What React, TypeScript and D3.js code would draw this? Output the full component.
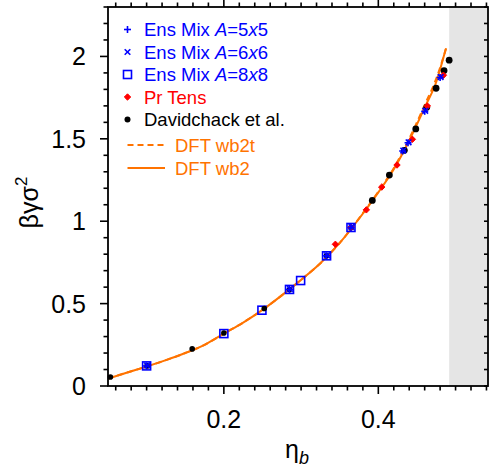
import React from 'react';
import * as d3 from 'd3';

// packing fraction eta_b vs reduced interfacial tension beta*gamma*sigma^2
const davidchack = [
    [0.0531, 0.055], [0.1006, 0.122], [0.159, 0.225], [0.2, 0.322], [0.2523, 0.47],
    [0.2851, 0.586], [0.333, 0.79], [0.3646, 0.962], [0.3922, 1.126], [0.4143, 1.28],
    [0.4337, 1.43], [0.4485, 1.56], [0.4627, 1.691], [0.4748, 1.807], [0.4851, 1.914],
    [0.4917, 1.977],
];
const ensMix8 = [
    [0.1, 0.122], [0.2, 0.318], [0.2493, 0.46], [0.285, 0.586], [0.2994, 0.64],
    [0.333, 0.79], [0.3646, 0.962],
];
const ensMix5 = [
    [0.1, 0.122], [0.285, 0.586], [0.333, 0.79], [0.3646, 0.962], [0.4316, 1.426],
    [0.4385, 1.476], [0.4601, 1.667], [0.48, 1.872],
];
const ensMix6 = [
    [0.1, 0.122], [0.285, 0.586], [0.333, 0.79], [0.3646, 0.962], [0.4316, 1.426],
    [0.4385, 1.476], [0.4601, 1.667], [0.48, 1.872],
];
const prTens = [
    [0.3444, 0.86], [0.3646, 0.962], [0.3845, 1.069], [0.4044, 1.207], [0.4242, 1.341],
    [0.4441, 1.497], [0.4635, 1.699], [0.4843, 1.886],
];
const dftWb2 = [
    [0.05, 0.045], [0.075, 0.082], [0.1, 0.118], [0.125, 0.157], [0.15, 0.2],
    [0.175, 0.25], [0.2, 0.318], [0.225, 0.385], [0.25, 0.462], [0.275, 0.55],
    [0.3, 0.644], [0.325, 0.745], [0.35, 0.868], [0.375, 1.015], [0.4, 1.175],
    [0.42, 1.315], [0.44, 1.49], [0.46, 1.69], [0.475, 1.845], [0.4873, 2.045],
];
const dftWb2t = [
    [0.05, 0.045], [0.075, 0.082], [0.1, 0.118], [0.125, 0.157], [0.15, 0.2],
    [0.175, 0.25], [0.2, 0.318], [0.225, 0.385], [0.25, 0.462], [0.275, 0.55],
    [0.3, 0.644], [0.325, 0.745], [0.35, 0.868], [0.375, 1.017], [0.4, 1.18],
    [0.42, 1.322], [0.44, 1.5], [0.46, 1.705], [0.475, 1.865], [0.4894, 2.074],
];
const freezing = 0.4917;
const xMajor = [0.2, 0.4];
const yMajor = [0, 0.5, 1, 1.5, 2];

const BLUE = '#0000ff';
const RED = '#ff0000';
const ORANGE = '#ff7300';
const FONT = 'Liberation Sans, Arial, sans-serif';

export default function App() {
    const width = 489;
    const height = 473;
    const left = 108, right = 488, top = 7, bottom = 386;

    const x = d3.scaleLinear().domain([0.05, 0.542]).range([left, right]);
    const y = d3.scaleLinear().domain([0, 2.3]).range([bottom, top]);

    const xMinor = d3.range(3, 28).map(i => i * 0.02);
    const yMinor = d3.range(0, 24).map(i => i * 0.1);

    const line = d3
        .line()
        .x(d => x(d[0]))
        .y(d => y(d[1]))
        .curve(d3.curveMonotoneX);

    const isMajorX = v => xMajor.some(m => Math.abs(m - v) < 1e-6);
    const isMajorY = v => yMajor.some(m => Math.abs(m - v) < 1e-6);

    const plus = (cx, cy, s, color, k) => (
        <g key={k} stroke={color} strokeWidth={1.6}>
            <line x1={cx - s} x2={cx + s} y1={cy} y2={cy} />
            <line x1={cx} x2={cx} y1={cy - s} y2={cy + s} />
        </g>
    );
    const cross = (cx, cy, s, color, k) => (
        <g key={k} stroke={color} strokeWidth={1.6}>
            <line x1={cx - s} x2={cx + s} y1={cy - s} y2={cy + s} />
            <line x1={cx - s} x2={cx + s} y1={cy + s} y2={cy - s} />
        </g>
    );
    const square = (cx, cy, s, color, k) => (
        <rect key={k} x={cx - s} y={cy - s} width={2 * s} height={2 * s}
            fill="none" stroke={color} strokeWidth={1.6} />
    );
    const diamond = (cx, cy, s, color, k) => (
        <path key={k} fill={color} stroke={color} strokeWidth={1} strokeLinejoin="round"
            d={`M${cx},${cy - s}L${cx + s},${cy}L${cx},${cy + s}L${cx - s},${cy}Z`} />
    );
    const dot = (cx, cy, r, k) => <circle key={k} cx={cx} cy={cy} r={r} fill="#000" />;

    const legend = [
        { label: ['Ens Mix ', 'A', '=5', 'x', '5'], color: BLUE, mark: 'plus' },
        { label: ['Ens Mix ', 'A', '=6', 'x', '6'], color: BLUE, mark: 'cross' },
        { label: ['Ens Mix ', 'A', '=8', 'x', '8'], color: BLUE, mark: 'square' },
        { label: ['Pr Tens'], color: RED, mark: 'diamond' },
        { label: ['Davidchack et al.'], color: '#000', mark: 'dot' },
    ];
    const legendY = [29.5, 52, 74.5, 97, 119.5];

    return (
        <svg width={width} height={height} style={{ position: 'absolute', left: 0, top: 0 }}
            fontFamily={FONT}>
            <rect x={x(freezing)} y={top} width={right - x(freezing)} height={bottom - top} fill="#e5e5e5" />

            <path d={line(dftWb2)} fill="none" stroke={ORANGE} strokeWidth={2} />
            <path d={line(dftWb2t)} fill="none" stroke={ORANGE} strokeWidth={2} strokeDasharray="6,4" />

            {ensMix8.map((d, i) => square(x(d[0]), y(d[1]), 4, BLUE, 's' + i))}
            {davidchack.map((d, i) => dot(x(d[0]), y(d[1]), d[0] > 0.38 ? 3.4 : 2.8, 'd' + i))}
            {prTens.map((d, i) => diamond(x(d[0]), y(d[1]), 3.2, RED, 'r' + i))}
            {ensMix5.map((d, i) => plus(x(d[0]), y(d[1]), 3.5, BLUE, 'p' + i))}
            {ensMix6.map((d, i) => cross(x(d[0]) + 0.5, y(d[1]) - 0.5, 2.8, BLUE, 'c' + i))}

            {/* frame */}
            <rect x={left} y={top} width={right - left} height={bottom - top} fill="none" stroke="#000" strokeWidth={1.8} />

            {/* x ticks bottom & top */}
            {xMinor.map((v, i) => {
                const len = isMajorX(v) ? 8 : 4.5;
                return (
                    <g key={'xt' + i} stroke="#000" strokeWidth={1.6}>
                        <line x1={x(v)} x2={x(v)} y1={bottom} y2={bottom + len} />
                        <line x1={x(v)} x2={x(v)} y1={top} y2={top - len} />
                    </g>
                );
            })}
            {/* y ticks left & right */}
            {yMinor.map((v, i) => {
                const len = isMajorY(v) ? 8 : 4.5;
                return (
                    <g key={'yt' + i} stroke="#000" strokeWidth={1.6}>
                        <line x1={left} x2={left - len} y1={y(v)} y2={y(v)} />
                        <line x1={right} x2={right - 4} y1={y(v)} y2={y(v)} />
                    </g>
                );
            })}

            {xMajor.map(v => (
                <text key={'xl' + v} x={x(v)} y={428} textAnchor="middle" fontSize={25}>{v}</text>
            ))}
            {yMajor.map(v => (
                <text key={'yl' + v} x={86} y={y(v) + 9} textAnchor="end" fontSize={25}>{v}</text>
            ))}

            <text x={297} y={458} textAnchor="middle" fontSize={25}>
                η<tspan fontStyle="italic" fontSize={18} dy={6}>b</tspan>
            </text>
            <text transform={`translate(38,${(top + bottom) / 2 + 6}) rotate(-90)`} textAnchor="middle" fontSize={25}>
                βγσ<tspan fontSize={17} dy={-11}>2</tspan>
            </text>

            {/* legend */}
            {legend.map((l, i) => {
                const cy = legendY[i];
                const mx = 127.5;
                let m;
                if (l.mark === 'plus') m = plus(mx, cy, 3.5, l.color, 'm');
                else if (l.mark === 'cross') m = cross(mx, cy, 2.8, l.color, 'm');
                else if (l.mark === 'square') m = square(mx, cy, 4, l.color, 'm');
                else if (l.mark === 'diamond') m = diamond(mx, cy, 3.2, l.color, 'm');
                else m = dot(mx, cy, 3, 'm');
                return (
                    <g key={'lg' + i}>
                        {m}
                        <text x={144} y={cy + 6.5} fontSize={18.5} fill={l.color}>
                            {l.label.map((t, j) => (
                                <tspan key={j} fontStyle={t === 'A' || t === 'x' ? 'italic' : 'normal'}>{t}</tspan>
                            ))}
                        </text>
                    </g>
                );
            })}
            <line x1={127.5} x2={165} y1={145} y2={145} stroke={ORANGE} strokeWidth={2} strokeDasharray="6,4" />
            <text x={175} y={151.5} fontSize={18.5} fill={ORANGE}>DFT wb2t</text>
            <line x1={127.5} x2={165} y1={168} y2={168} stroke={ORANGE} strokeWidth={2} />
            <text x={175} y={174.5} fontSize={18.5} fill={ORANGE}>DFT wb2</text>
        </svg>
    );
}
